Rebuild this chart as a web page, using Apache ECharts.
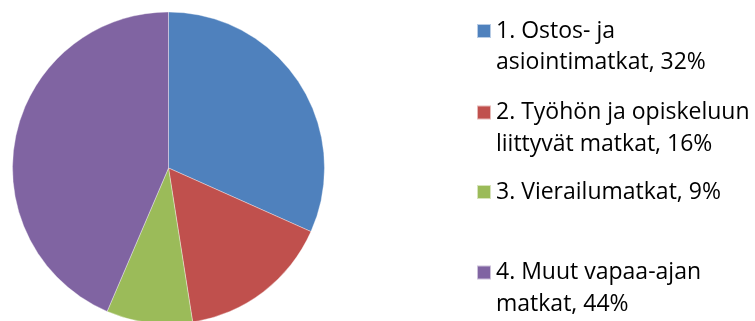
<!DOCTYPE html>
<html>
<head>
<meta charset="utf-8">
<script src="https://cdn.jsdelivr.net/npm/echarts@6/dist/echarts.min.js"></script>
<style>
html,body{margin:0;padding:0;background:#fff;}
#chart{width:755px;height:321px;}
</style>
</head>
<body>
<div id="chart"></div>
<script>
const categories = ['1. Ostos- ja asiointimatkat', '2. Työhön ja opiskeluun liittyvät matkat', '3. Vierailumatkat', '4. Muut vapaa-ajan matkat'];
const values = [32, 16, 9, 44];
const legendLines = [
  ['1. Ostos- ja', 'asiointimatkat, 32%'],
  ['2. Työhön ja opiskeluun', 'liittyvät matkat, 16%'],
  ['3. Vierailumatkat, 9%'],
  ['4. Muut vapaa-ajan', 'matkat, 44%']
];
const colors = ['#4F81BD', '#C0504D', '#9BBB59', '#8064A2'];

const FONT = 'Open Sans';
const FS = 23;
const LH = 31.5;
const legendTops = [31, 112.5, 192, 272.5];

const legends = categories.map((c, i) => {
  const multi = legendLines[i].length > 1;
  return {
    data: [c],
    left: 476,
    top: legendTops[i] - (multi ? 1.5 * LH : 0.5 * LH),
    padding: 0,
    orient: 'vertical',
    itemWidth: 14,
    itemHeight: 14,
    itemGap: 7,
    icon: 'rect',
    selectedMode: false,
    formatter: function () {
      const lines = legendLines[i];
      return multi ? '\n' + lines.join('\n') : lines[0];
    },
    textStyle: { fontFamily: FONT, fontSize: FS, lineHeight: LH, color: '#000' }
  };
});

const chart = echarts.init(document.getElementById('chart'), null, { renderer: 'canvas' });
chart.setOption({
  animation: false,
  color: colors,
  legend: legends,
  series: [{
    type: 'pie',
    center: [168.5, 168],
    radius: 156,
    startAngle: 90,
    clockwise: true,
    label: { show: false },
    labelLine: { show: false },
    itemStyle: { borderColor: 'rgba(255,255,255,0.6)', borderWidth: 0.6 },
    emphasis: { disabled: true },
    data: categories.map((c, i) => ({ name: c, value: values[i] }))
  }]
});
</script>
</body>
</html>
